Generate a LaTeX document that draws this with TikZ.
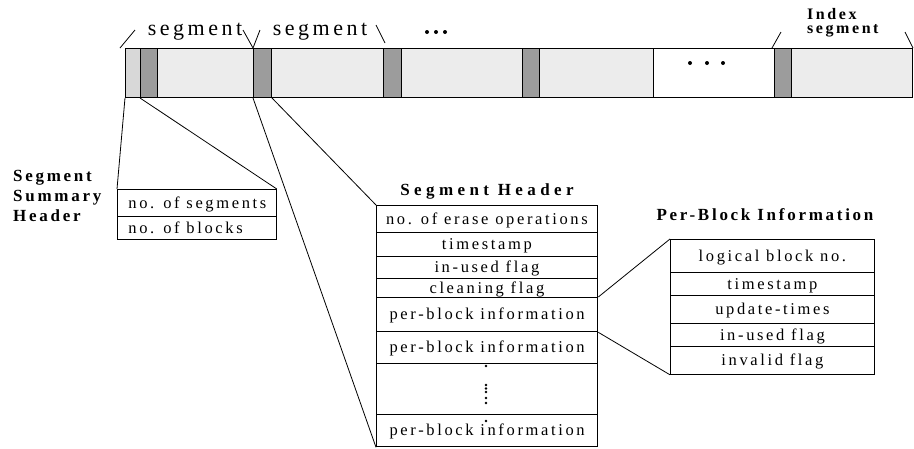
\documentclass[tikz,border=0pt]{standalone}
\usepackage{fontspec}
\setmainfont{Liberation Serif}
\newfontfamily\lsfont[LetterSpace=16]{Liberation Serif}
\newfontfamily\lsfontw[LetterSpace=26]{Liberation Serif}
\definecolor{segfirst}{HTML}{D8D8D8}
\definecolor{seglight}{HTML}{ECECEC}
\definecolor{segdark}{HTML}{9C9C9C}
\begin{document}
\begin{tikzpicture}[x=1pt,y=-1pt,
  barpiece/.style={draw, line width=1pt, inner sep=0pt, anchor=north west, minimum height=49pt},
  tbl/.style={draw, line width=0.8pt, inner sep=0pt, anchor=north west, text height=10.5pt, text depth=0pt,
    font=\lsfont\fontsize{16.5}{19}\selectfont},
  thk/.style={line width=1.3pt},
  conn/.style={line width=0.8pt},
  ttl/.style={font=\lsfont\bfseries\fontsize{17}{20}\selectfont, anchor=base west, inner sep=0pt},
  toplbl/.style={font=\lsfont\fontsize{22}{26}\selectfont, anchor=base, inner sep=0pt},
  bigdot/.style={fill=black, draw=none, circle, inner sep=0pt, minimum size=4pt},
  smalldot/.style={fill=black, draw=none, circle, inner sep=0pt, minimum size=2.6pt}]
\useasboundingbox (0,0) rectangle (914,448);

% ---- bar ----
\node[barpiece, fill=segfirst, minimum width=15pt] (p0) at (125,48) {};
\node[barpiece, fill=segdark, minimum width=17pt] (d1) at (140,48) {};
\node[barpiece, fill=seglight, minimum width=96pt] (l1) at (157,48) {};
\node[barpiece, fill=segdark, minimum width=18pt] (d2) at (253,48) {};
\node[barpiece, fill=seglight, minimum width=112pt] (l2) at (271,48) {};
\node[barpiece, fill=segdark, minimum width=18pt] (d3) at (383,48) {};
\node[barpiece, fill=seglight, minimum width=121pt] (l3) at (401,48) {};
\node[barpiece, fill=segdark, minimum width=17pt] (d4) at (522,48) {};
\node[barpiece, fill=seglight, minimum width=114pt] (l4) at (539,48) {};
\node[barpiece, fill=white, minimum width=121pt] (w1) at (653,48) {};
\node[barpiece, fill=segdark, minimum width=17pt] (d5) at (774,48) {};
\node[barpiece, fill=seglight, minimum width=121pt] (l5) at (791,48) {};

% dots in white region
\node[bigdot] (wd1) at (690,63) {};
\node[bigdot] (wd2) at (707,63) {};
\node[bigdot] (wd3) at (723,63) {};

% ---- top labels ----
\node[toplbl] (seg1) at (195,35) {segment};
\node[toplbl] (seg2) at (320,35) {segment};
\node[bigdot] (td1) at (427,32) {};
\node[bigdot] (td2) at (436,32) {};
\node[bigdot] (td3) at (445,32) {};
\node[ttl, font=\lsfont\bfseries\fontsize{16}{19}\selectfont] (idx1) at (807,19) {Index};
\node[ttl, font=\lsfont\bfseries\fontsize{16}{19}\selectfont] (idx2) at (807,33.5) {segment};

\coordinate (k1a) at (120,48); \coordinate (k1b) at (135,30);
\coordinate (k2a) at (243,30); \coordinate (k2b) at (253,48); \coordinate (k2c) at (260,30);
\coordinate (k3a) at (376,25); \coordinate (k3b) at (385,43);
\coordinate (k4a) at (772,48); \coordinate (k4b) at (781,32);
\coordinate (k5a) at (905,32); \coordinate (k5b) at (913,48);
\draw[conn] (k1a) -- (k1b);
\draw[conn] (k2a) -- (k2b) -- (k2c);
\draw[conn] (k3a) -- (k3b);
\draw[conn] (k4a) -- (k4b);
\draw[conn] (k5a) -- (k5b);

% ---- segment summary header ----
\node[ttl] (ssht1) at (13,181) {Segment};
\node[ttl] (ssht2) at (13,201) {Summary};
\node[ttl] (ssht3) at (13,221) {Header};
\node[tbl, minimum width=159pt, minimum height=27pt, inner xsep=11pt] (ss1) at (117,189) {\makebox[137pt][l]{no. of segments}};
\node[tbl, minimum width=159pt, minimum height=23pt, inner xsep=11pt] (ss2) at (117,216) {\makebox[137pt][l]{no. of blocks}};

% ---- segment header ----
\node[font=\lsfontw\bfseries\fontsize{17}{20}\selectfont, anchor=base, inner sep=0pt] (sht) at (487,195) {Segment Header};
\node[tbl, minimum width=221pt, minimum height=27pt] (sh1) at (376,205) {no. of erase operations};
\node[tbl, minimum width=221pt, minimum height=24pt] (sh2) at (376,232) {timestamp};
\node[tbl, minimum width=221pt, minimum height=22pt] (sh3) at (376,256) {in-used flag};
\node[tbl, minimum width=221pt, minimum height=19pt] (sh4) at (376,278) {cleaning flag};
\node[tbl, thk, minimum width=221pt, minimum height=34pt] (sh5) at (376,297) {per-block information};
\node[tbl, thk, minimum width=221pt, minimum height=32pt] (sh6) at (376,331) {per-block information};
\node[tbl, thk, minimum width=221pt, minimum height=51pt] (sh7) at (376,363) {};
\node[tbl, thk, minimum width=221pt, minimum height=32pt] (sh8) at (376,414) {per-block information};
\node[smalldot] (vd1) at (486,366) {};
\node[smalldot] (vd2) at (486,385) {};
\node[smalldot] (vd3) at (486,388.5) {};
\node[smalldot] (vd4) at (486,392) {};
\node[smalldot] (vd5) at (486,398) {};
\node[smalldot] (vd6) at (486,403) {};
\node[smalldot] (vd7) at (486,421) {};

% ---- per-block information ----
\node[ttl, anchor=base] (pbt) at (765,220) {Per-Block Information};
\node[tbl, minimum width=204pt, minimum height=33pt] (pb1) at (670,239) {logical block no.};
\node[tbl, minimum width=204pt, minimum height=23pt] (pb2) at (670,272) {timestamp};
\node[tbl, minimum width=204pt, minimum height=28pt] (pb3) at (670,295) {update-times};
\node[tbl, minimum width=204pt, minimum height=23pt] (pb4) at (670,323) {in-used flag};
\node[tbl, minimum width=204pt, minimum height=28pt] (pb5) at (670,346) {invalid flag};

% ---- connectors ----
\draw[conn] (p0.south west) -- (ss1.north west);
\draw[conn] (d1.south west) -- (ss1.north east);
\draw[conn] (d2.south west) -- (sh8.south west);
\draw[conn] (d2.south east) -- (sh1.north west);
\draw[conn] (sh5.north east) -- (pb1.north west);
\draw[conn] (sh5.south east) -- (pb5.south west);
\end{tikzpicture}
\end{document}
